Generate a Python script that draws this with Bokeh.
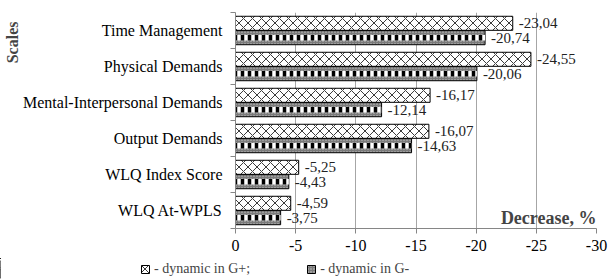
from bokeh.plotting import figure
from bokeh.layouts import column
from bokeh.models import (ColumnDataSource, Range1d, FixedTicker, Label, Legend,
                          LegendItem, LabelSet, Title)
from bokeh.core.properties import value
from bokeh.embed import file_html
from bokeh.resources import INLINE

scales = ["Time Management", "Physical Demands", "Mental-Interpersonal Demands",
          "Output Demands", "WLQ Index Score", "WLQ At-WPLS"]
g_plus = [-23.04, -24.55, -16.17, -16.07, -5.25, -4.59]
g_minus = [-20.74, -20.06, -12.14, -14.63, -4.43, -3.75]
x_ticks = [0, -5, -10, -15, -20, -25, -30]
series_names = ["- dynamic in G+;", "- dynamic in G-"]

FONT = "Liberation Serif"
n = len(scales)
centers = [n - i - 0.5 for i in range(n)]

src = ColumnDataSource(dict(
    y_plus=[c + 0.2 for c in centers],
    y_minus=[c - 0.2 for c in centers],
    gp=g_plus, gm=g_minus,
    lp=[f"{v:.2f}".replace(".", ",") for v in g_plus],
    lm=[f"{v:.2f}".replace(".", ",") for v in g_minus],
))

PLUS_STYLE = dict(fill_color="white", line_color="black", line_width=1,
                  hatch_pattern="diagonal_cross", hatch_color="#3a3a3a",
                  hatch_scale=9, hatch_weight=1)
MINUS_STYLE = dict(fill_color="#7a7a7a", line_color="black", line_width=1,
                   hatch_pattern="dot", hatch_color="#cfcfcf",
                   hatch_scale=3, hatch_weight=1)

p = figure(width=613, height=258, output_backend="svg", toolbar_location=None,
           x_range=Range1d(0, -30), y_range=Range1d(0, n),
           min_border_left=235, min_border_right=17, min_border_top=12,
           min_border_bottom=30)
p.frame_align = False
p.outline_line_color = None
p.background_fill_color = "white"

# grid
p.ygrid.grid_line_color = None
p.xgrid.ticker = FixedTicker(ticks=x_ticks)
p.xgrid.grid_line_color = "#a6a6a6"
p.xgrid.grid_line_width = 1

# x axis
xa = p.xaxis[0]
xa.ticker = FixedTicker(ticks=x_ticks)
xa.major_label_overrides = {t: str(t) for t in x_ticks}
xa.axis_line_color = "#868686"
xa.major_tick_line_color = "#868686"
xa.major_tick_out = 5
xa.major_tick_in = 0
xa.minor_tick_line_color = None
xa.major_label_text_font = FONT
xa.major_label_text_font_size = "16px"
xa.major_label_text_color = "black"
xa.major_label_standoff = 6

# y axis
ya = p.yaxis[0]
ya.ticker = FixedTicker(ticks=centers, minor_ticks=list(range(n + 1)))
ya.major_label_overrides = {c: s for c, s in zip(centers, scales)}
ya.major_tick_out = 0
ya.major_tick_in = 0
ya.minor_tick_out = 5
ya.minor_tick_in = 0
ya.minor_tick_line_color = "#868686"
ya.axis_line_color = "#868686"
ya.major_label_text_font = FONT
ya.major_label_text_font_size = "16px"
ya.major_label_text_color = "black"
ya.major_label_standoff = 8

p.add_layout(Title(text="Scales", align="right", offset=9, standoff=0,
                   text_font=FONT, text_font_size="16px",
                   text_font_style="bold"), "left")

h = 0.39
p.hbar(y="y_plus", left=0, right="gp", height=h, source=src, **PLUS_STYLE)
p.hbar(y="y_minus", left=0, right="gm", height=h, source=src, **MINUS_STYLE)
p.hbar(y="y_minus", left=0, right="gm", height=h * 0.4, source=src,
       fill_color="white", line_color=None,
       hatch_pattern="vertical_line", hatch_color="black",
       hatch_scale=7, hatch_weight=3.5)

for ycol, xcol, lcol in [("y_plus", "gp", "lp"), ("y_minus", "gm", "lm")]:
    ls = LabelSet(x=xcol, y=ycol, text=lcol, source=src, x_offset=6,
                  text_font=value(FONT), text_font_size="15px",
                  text_color="#222222", text_baseline="middle", text_align="left")
    p.add_layout(ls)

p.add_layout(Label(x=361, y=11, x_units="screen", y_units="screen",
                   text="Decrease, %", text_align="right",
                   text_baseline="middle", text_font=FONT,
                   text_font_size="18px", text_font_style="bold"))

# legend strip (legend proxies reuse the data; they fall outside this strip's ranges)
q = figure(width=613, height=22, output_backend="svg", toolbar_location=None,
           x_range=Range1d(1, 2), y_range=Range1d(0, 1),
           min_border_left=0, min_border_right=0, min_border_top=0,
           min_border_bottom=0)
q.frame_align = False
q.axis.visible = False
q.grid.visible = False
q.outline_line_color = None
lr_plus = q.hbar(y="y_plus", left=0, right="gp", height=h, source=src, **PLUS_STYLE)
lr_minus = q.hbar(y="y_minus", left=0, right="gm", height=h, source=src, **MINUS_STYLE)
legend = Legend(items=[LegendItem(label=series_names[0], renderers=[lr_plus]),
                       LegendItem(label=series_names[1], renderers=[lr_minus])],
                orientation="horizontal", location=(140, 3),
                glyph_width=10, glyph_height=10, label_standoff=4,
                spacing=56, padding=0, margin=0,
                border_line_color=None, background_fill_alpha=0,
                label_text_font=FONT, label_text_font_size="14px",
                label_height=14)
q.add_layout(legend, "center")

layout = column(p, q, spacing=0)
open("out.html", "w").write(file_html(layout, INLINE))
